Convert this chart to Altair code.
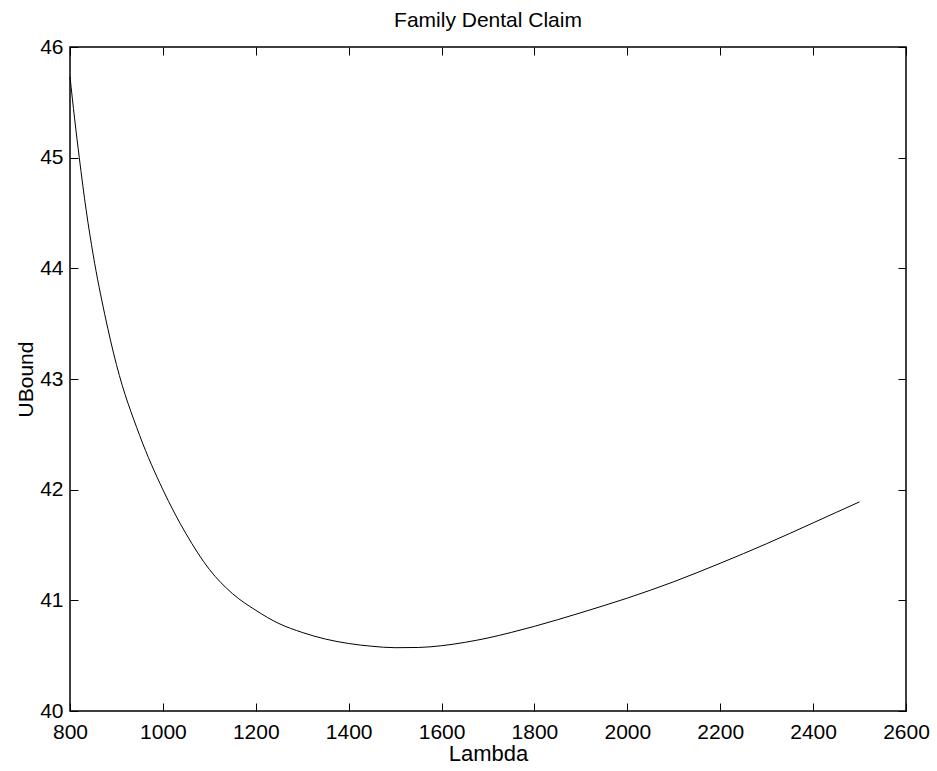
import altair as alt
import pandas as pd

# Upper bound of the family dental claim as a function of lambda
lam = [800, 810, 820, 835, 850, 875, 900, 950, 1000, 1050, 1100, 1150, 1200,
       1250, 1300, 1350, 1400, 1450, 1500, 1550, 1600, 1650, 1700, 1750,
       1800, 1850, 1900, 1950, 2000, 2050, 2100, 2150, 2200, 2250, 2300,
       2350, 2400, 2450, 2500]
ubound = [45.73, 45.35, 45.00, 44.52, 44.12, 43.58, 43.13, 42.49, 42.00,
          41.60, 41.28, 41.06, 40.91, 40.79, 40.71, 40.65, 40.61, 40.585,
          40.572, 40.574, 40.59, 40.62, 40.66, 40.71, 40.765, 40.825, 40.888,
          40.953, 41.02, 41.092, 41.168, 41.25, 41.335, 41.422, 41.512, 41.605,
          41.70, 41.795, 41.89]

x_ticks = [800, 1000, 1200, 1400, 1600, 1800, 2000, 2200, 2400, 2600]
y_ticks = [40, 41, 42, 43, 44, 45, 46]

df = pd.DataFrame({"Lambda": lam, "UBound": ubound})

W, H = 836, 664
FONT = "Liberation Sans"
TICK = 8

xs = alt.Scale(domain=[800, 2600], nice=False, zero=False)
ys = alt.Scale(domain=[40, 46], nice=False, zero=False)

base = alt.Chart(df)

# Main curve with labelled bottom/left axes
curve = base.mark_line(color="black", strokeWidth=1, interpolate="monotone").encode(
    x=alt.X("Lambda:Q", scale=xs, axis=alt.Axis(
        values=x_ticks, format="d", title="Lambda", tickSize=0, domain=False,
        grid=False, labelFont=FONT, labelFontSize=21, labelColor="black",
        labelPadding=10, labelFlush=False, titleFont=FONT, titleFontSize=22,
        titleFontWeight="normal", titleColor="black", titlePadding=1)),
    y=alt.Y("UBound:Q", scale=ys, axis=alt.Axis(
        values=y_ticks, format="d", title="UBound", tickSize=0, domain=False,
        grid=False, labelFont=FONT, labelFontSize=21, labelColor="black",
        labelPadding=7, labelFlush=False, titleFont=FONT, titleFontSize=21,
        titleFontWeight="normal", titleColor="black", titlePadding=3)),
)

# Inward ticks along the bottom and left edges
ticks_bl = base.mark_line(opacity=0).encode(
    x=alt.X("Lambda:Q", scale=xs, axis=alt.Axis(
        orient="top", offset=-H, values=x_ticks, labels=False, title=None,
        domain=False, grid=False, tickSize=TICK, tickColor="black",
        tickWidth=1)),
    y=alt.Y("UBound:Q", scale=ys, axis=alt.Axis(
        orient="right", offset=-W, values=y_ticks, labels=False, title=None,
        domain=False, grid=False, tickSize=TICK, tickColor="black",
        tickWidth=1)),
)

# Inward ticks along the top and right edges
ticks_tr = base.mark_line(opacity=0).encode(
    x=alt.X("Lambda:Q", scale=xs, axis=alt.Axis(
        orient="bottom", offset=-H, values=x_ticks, labels=False, title=None,
        domain=False, grid=False, tickSize=TICK, tickColor="black",
        tickWidth=1)),
    y=alt.Y("UBound:Q", scale=ys, axis=alt.Axis(
        orient="left", offset=-W, values=y_ticks, labels=False, title=None,
        domain=False, grid=False, tickSize=TICK, tickColor="black",
        tickWidth=1)),
)

chart = alt.layer(curve, ticks_bl, ticks_tr).resolve_axis(
    x="independent", y="independent"
).properties(
    width=W,
    height=H,
    title=alt.TitleParams("Family Dental Claim", font=FONT, fontSize=21,
                          fontWeight="normal", color="black", offset=5),
    padding={"left": 70, "top": 47, "right": 31, "bottom": 60},
    autosize=alt.AutoSizeParams(type="none"),
).configure_view(stroke="black", strokeWidth=1.5)

chart.save("out.html", embed_options={"renderer": "svg", "actions": False})
